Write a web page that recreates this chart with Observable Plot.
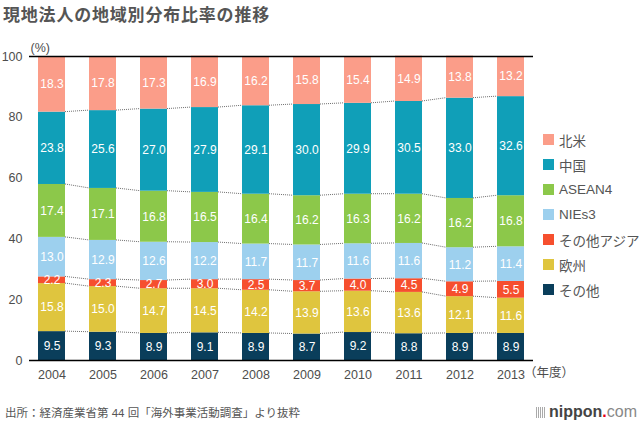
<!DOCTYPE html>
<html>
<head>
<meta charset="utf-8">
<script src="https://cdn.jsdelivr.net/npm/d3@7"></script>
<script src="https://cdn.jsdelivr.net/npm/@observablehq/plot@0.6"></script>
<style>
  body { margin: 0; background: #fff; }
  #wrap { position: relative; width: 640px; height: 424px; overflow: hidden; background: #fff;
          font-family: "Liberation Sans", "Noto Sans CJK JP", sans-serif; color: #555; }
  #chart { position: absolute; left: 0; top: 0; }
  #title { position: absolute; left: 3px; top: 1px; font-family: "Noto Sans CJK JP", sans-serif;
           font-weight: bold; font-size: 17px; letter-spacing: 0.8px; color: #555; line-height: 26px; white-space: nowrap; }
  .lg { position: absolute; left: 543px; height: 20px; display: flex; align-items: center; white-space: nowrap; }
  .lg .sw { width: 11px; height: 11px; margin-right: 5px; flex: none; }
  .lg span { font-size: 13.5px; color: #555; }
  #caption { position: absolute; left: 5px; top: 405px; font-size: 11.5px; color: #555; line-height: 16px; white-space: nowrap; }
  #logo { position: absolute; right: 3px; top: 402px; display: flex; align-items: center; line-height: 20px; }
  #logo .ic { width: 10px; height: 11px; margin-right: 3px;
              background: repeating-linear-gradient(90deg, #aaa 0 1px, transparent 1px 2px); }
  #logo .n { font-family: "Liberation Sans", sans-serif; font-weight: bold; font-size: 16px; color: #444; }
  #logo .d { font-family: "Liberation Sans", sans-serif; font-weight: bold; font-size: 16px; color: #e60012; }
  #logo .c { font-family: "Liberation Sans", sans-serif; font-size: 16px; color: #888; }
</style>
</head>
<body>
<div id="wrap">
  <div id="chart"></div>
  <div id="title">現地法人の地域別分布比率の推移</div>
  <div id="legend"></div>
  <div id="caption">出所：経済産業省第 44 回「海外事業活動調査」より抜粋</div>
  <div id="logo"><div class="ic"></div><span class="n">nippon</span><span class="d">.</span><span class="c">com</span></div>
</div>
<script>
// ---- data ----
const years = ["2004", "2005", "2006", "2007", "2008", "2009", "2010", "2011", "2012", "2013"];
// legend order (top to bottom)
const regions = ["北米", "中国", "ASEAN4", "NIEs3", "その他アジア", "欧州", "その他"];
const colors = ["#fb9d89", "#109fb8", "#8cc84a", "#9dd0ee", "#f64f2e", "#dfc53e", "#0a3e5b"];
// stacking order (bottom to top)
const stackOrder = ["その他", "欧州", "その他アジア", "NIEs3", "ASEAN4", "中国", "北米"];

const northAmerica = [18.3, 17.8, 17.3, 16.9, 16.2, 15.8, 15.4, 14.9, 13.8, 13.2];
const china        = [23.8, 25.6, 27.0, 27.9, 29.1, 30.0, 29.9, 30.5, 33.0, 32.6];
const asean4       = [17.4, 17.1, 16.8, 16.5, 16.4, 16.2, 16.3, 16.2, 16.2, 16.8];
const nies3        = [13.0, 12.9, 12.6, 12.2, 11.7, 11.7, 11.6, 11.6, 11.2, 11.4];
// bar heights as drawn (2008 segment is drawn as 3.5 though printed "2.5")
const otherAsia    = [2.2, 2.3, 2.7, 3.0, 3.5, 3.7, 4.0, 4.5, 4.9, 5.5];
const europe       = [15.8, 15.0, 14.7, 14.5, 14.2, 13.9, 13.6, 13.6, 12.1, 11.6];
const other        = [9.5, 9.3, 8.9, 9.1, 8.9, 8.7, 9.2, 8.8, 8.9, 8.9];
// printed label that differs from the drawn height
const labelOverrides = {"2008|その他アジア": "2.5"};

const series = {
  "北米": northAmerica, "中国": china, "ASEAN4": asean4, "NIEs3": nies3,
  "その他アジア": otherAsia, "欧州": europe, "その他": other
};

// ---- build table ----
const rows = [];
const tops = {};
years.forEach((yr, i) => {
  let cum = 0;
  tops[yr] = [];
  stackOrder.forEach(r => {
    const v = series[r][i];
    const y1 = cum, y2 = cum + v;
    cum = y2;
    tops[yr].push(y2);
    rows.push({year: yr, region: r, value: v, y1, y2, mid: (y1 + y2) / 2,
               label: labelOverrides[yr + "|" + r] ?? v.toFixed(1)});
  });
});
const links = [];
for (let i = 0; i < years.length - 1; i++) {
  for (let k = 0; k < stackOrder.length - 1; k++) {
    links.push({x1: years[i], x2: years[i + 1], y1: tops[years[i]][k], y2: tops[years[i + 1]][k]});
  }
}

const W = 640, H = 390, ML = 29, MR = 107, MT = 56, MB = 30;
const PI = 0.475, PO = 0.14;

function connectors(index, scales, values, dimensions) {
  let x = scales.x;
  if (!x || typeof x.bandwidth !== "function") {
    x = d3.scaleBand().domain(years).range([ML, W - MR]).paddingInner(PI).paddingOuter(PO).align(0.5);
  }
  const y = scales.y;
  const bw = x.bandwidth();
  const g = d3.create("svg:g")
    .attr("stroke", "#707070").attr("stroke-width", 1).attr("stroke-dasharray", "1,1").attr("fill", "none");
  for (const d of links) {
    g.append("line")
      .attr("x1", x(d.x1) + bw).attr("y1", y(d.y1))
      .attr("x2", x(d.x2)).attr("y2", y(d.y2));
  }
  return g.node();
}

const chart = Plot.plot({
  width: W, height: H,
  marginLeft: ML, marginRight: MR, marginTop: MT, marginBottom: MB,
  style: {fontFamily: '"Liberation Sans", "Noto Sans CJK JP", sans-serif', fontSize: "12.5px", color: "#4d4d4d", background: "transparent"},
  x: {type: "band", domain: years, paddingInner: PI, paddingOuter: PO, align: 0.5, label: null},
  y: {domain: [0, 100], label: null},
  color: {domain: regions, range: colors},
  marks: [
    Plot.axisY({ticks: [0, 20, 40, 60, 80, 100], tickSize: 0, tickPadding: 7, label: null, fontSize: 12.5}),
    Plot.axisX({tickSize: 0, tickPadding: 10, label: null, fontSize: 12.5}),
    connectors,
    Plot.barY(rows, {x: "year", y1: "y1", y2: "y2", fill: "region"}),
    Plot.text(rows, {x: "year", y: "mid", text: "label", fill: "white", fontSize: 12}),
    Plot.ruleY([0, 100], {stroke: "#000", strokeWidth: 1.6}),
    Plot.text(["(%)"], {frameAnchor: "top-left", dx: 1, dy: -13, textAnchor: "start", fill: "#4d4d4d", fontSize: 12.5}),
    Plot.text(["（年度）"], {x: () => "2013", frameAnchor: "bottom", dy: 16, dx: 13, textAnchor: "start", fill: "#4d4d4d", fontSize: 12.5})
  ]
});
document.getElementById("chart").appendChild(chart);

// ---- legend ----
const legend = document.getElementById("legend");
const legendCenters = [139.5, 164.5, 189.5, 214.5, 239.5, 264.5, 289.5];
regions.forEach((r, i) => {
  const el = document.createElement("div");
  el.className = "lg";
  el.style.top = (legendCenters[i] - 10) + "px";
  el.innerHTML = `<div class="sw" style="background:${colors[i]}"></div><span>${r}</span>`;
  legend.appendChild(el);
});
</script>
</body>
</html>
